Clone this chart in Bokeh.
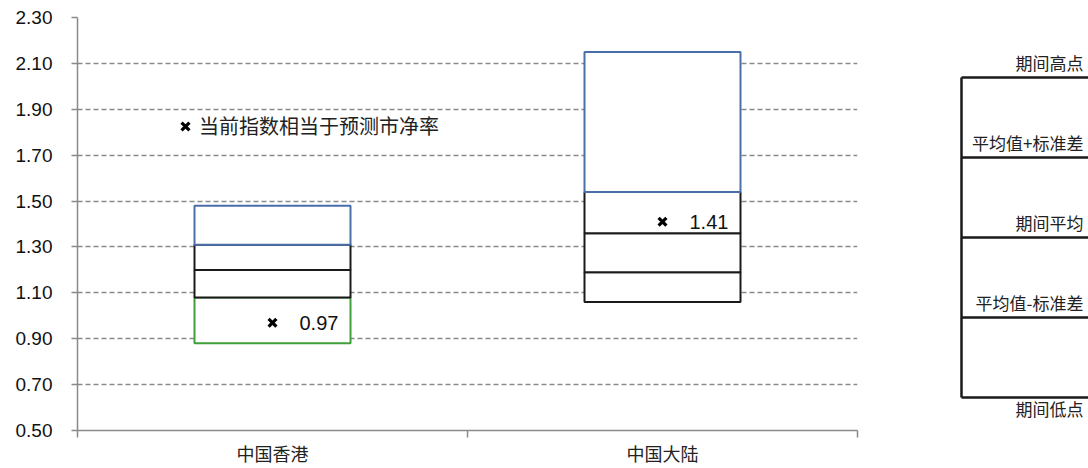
from bokeh.plotting import figure
from bokeh.layouts import row
from bokeh.models import (ColumnDataSource, Range1d, FixedTicker, PrintfTickFormatter,
                          Legend, LegendItem)
from bokeh.core.properties import value
from bokeh.embed import file_html
from bokeh.resources import INLINE

# ---- data: price-to-book ranges by market ----
regions = ["中国香港", "中国大陆"]
period_high = [1.48, 2.15]
mean_plus_sd = [1.31, 1.54]
period_mean = [1.20, 1.36]
mean_minus_sd = [1.08, 1.19]
period_low = [0.88, 1.06]
current_pb = [0.97, 1.41]

y_ticks = [0.50, 0.70, 0.90, 1.10, 1.30, 1.50, 1.70, 1.90, 2.10, 2.30]
marker_label = "当前指数相当于预测市净率"
level_names = ["期间低点", "平均值-标准差", "期间平均", "平均值+标准差", "期间高点"]

# ---- styles ----
CJK = "Noto Sans CJK SC"
LATIN = "Liberation Sans"
BLUE = "#4a6ea8"
GREEN = "#3f9f3a"
BLACK = "#1a1a1a"
AXIS_GREY = "#8a8a8a"
low_band_color = {"中国香港": GREEN, "中国大陆": BLACK}
BORDER_TOP, BORDER_BOTTOM = 17, 38

n = len(regions)
xc = [i + 0.5 for i in range(n)]
edges = list(range(n + 1))

src = ColumnDataSource(dict(
    x=xc, region=regions, high=period_high, plus=mean_plus_sd, mean=period_mean,
    minus=mean_minus_sd, low=period_low, cur=current_pb,
    cur_text=["%.2f" % v for v in current_pb],
    low_color=[low_band_color[r] for r in regions],
))

p = figure(width=880, height=468, x_range=Range1d(0, n), y_range=Range1d(y_ticks[0], y_ticks[-1]),
           output_backend="svg", toolbar_location=None,
           min_border_left=77, min_border_right=23,
           min_border_top=BORDER_TOP, min_border_bottom=BORDER_BOTTOM)
p.outline_line_color = None
p.background_fill_color = "white"
p.border_fill_color = "white"

# bands, bottom to top so the upper edges sit on top
BW = 0.4
p.vbar(x="x", width=BW, bottom="low", top="minus", source=src,
       fill_color="white", line_color="low_color", line_width=2)
p.vbar(x="x", width=BW, bottom="minus", top="mean", source=src,
       fill_color="white", line_color=BLACK, line_width=2)
p.vbar(x="x", width=BW, bottom="mean", top="plus", source=src,
       fill_color="white", line_color=BLACK, line_width=2)
p.vbar(x="x", width=BW, bottom="plus", top="high", source=src,
       fill_color="white", line_color=BLUE, line_width=2)

cur = p.scatter(x="x", y="cur", source=src, marker="x", size=11,
                line_color="black", line_width=3.2)
p.text(x="x", y="cur", text="cur_text", source=src, x_offset=27,
       text_baseline="middle", text_align="left",
       text_font=value(LATIN), text_font_size="20px", text_color="#111111")

legend = Legend(items=[LegendItem(label=marker_label, renderers=[cur])],
                location=(94, 290), padding=0, margin=0, spacing=0,
                glyph_width=28, glyph_height=28, label_height=28, label_standoff=0,
                label_text_font=CJK, label_text_font_size="20px", label_text_color="#222222",
                border_line_color=None, background_fill_alpha=0)
p.add_layout(legend)

# y axis
p.yaxis.ticker = FixedTicker(ticks=y_ticks)
p.yaxis.formatter = PrintfTickFormatter(format="%.2f")
p.yaxis.axis_line_color = AXIS_GREY
p.yaxis.axis_line_width = 1.5
p.yaxis.major_tick_line_color = AXIS_GREY
p.yaxis.major_tick_line_width = 1.5
p.yaxis.major_tick_out = 6
p.yaxis.major_tick_in = 0
p.yaxis.minor_tick_line_color = None
p.yaxis.minor_tick_out = 0
p.yaxis.major_label_standoff = 19
p.yaxis.major_label_text_font = LATIN
p.yaxis.major_label_text_font_size = "19px"
p.yaxis.major_label_text_color = "#111111"

# x axis: labels at category centres, tick marks at category edges
p.xaxis.ticker = FixedTicker(ticks=xc, minor_ticks=edges)
p.xaxis.major_label_overrides = {x: r for x, r in zip(xc, regions)}
p.xaxis.axis_line_color = AXIS_GREY
p.xaxis.axis_line_width = 1.5
p.xaxis.major_tick_line_color = None
p.xaxis.major_tick_out = 0
p.xaxis.major_tick_in = 0
p.xaxis.minor_tick_line_color = AXIS_GREY
p.xaxis.minor_tick_line_width = 1.5
p.xaxis.minor_tick_out = 7
p.xaxis.minor_tick_in = 0
p.xaxis.major_label_standoff = 2
p.xaxis.major_label_text_font = CJK
p.xaxis.major_label_text_font_size = "18px"
p.xaxis.major_label_text_color = "#222222"

p.xgrid.grid_line_color = None
p.ygrid.ticker = FixedTicker(ticks=y_ticks[1:])
p.ygrid.grid_line_color = AXIS_GREY
p.ygrid.grid_line_width = 1.4
p.ygrid.grid_line_dash = "5 3"

# ---- schematic key on the right (frame shares the chart's top/bottom borders) ----
k = figure(width=208, height=468, x_range=Range1d(0, 208), y_range=Range1d(-0.4125, 4.75),
           output_backend="svg", toolbar_location=None,
           min_border_left=0, min_border_right=0,
           min_border_top=BORDER_TOP, min_border_bottom=BORDER_BOTTOM)
k.axis.visible = False
k.grid.visible = False
k.outline_line_color = None
levels = list(range(len(level_names)))
k.segment(x0=81, y0=levels[0], x1=81, y1=levels[-1], line_color=BLACK, line_width=2.5)
k.segment(x0=[81] * len(levels), y0=levels, x1=[212] * len(levels), y1=levels,
          line_color=BLACK, line_width=2.5)
key_src = ColumnDataSource(dict(
    y=levels, name=level_names,
    dy=[11 if i == 0 else -15 for i in levels],
))
k.text(x=203, y="y", text="name", y_offset="dy", source=key_src,
       text_align="right", text_baseline="middle",
       text_font=value(CJK), text_font_size="17px", text_color="#222222")

layout = row(p, k, spacing=0)
open("out.html", "w").write(file_html(layout, INLINE))
